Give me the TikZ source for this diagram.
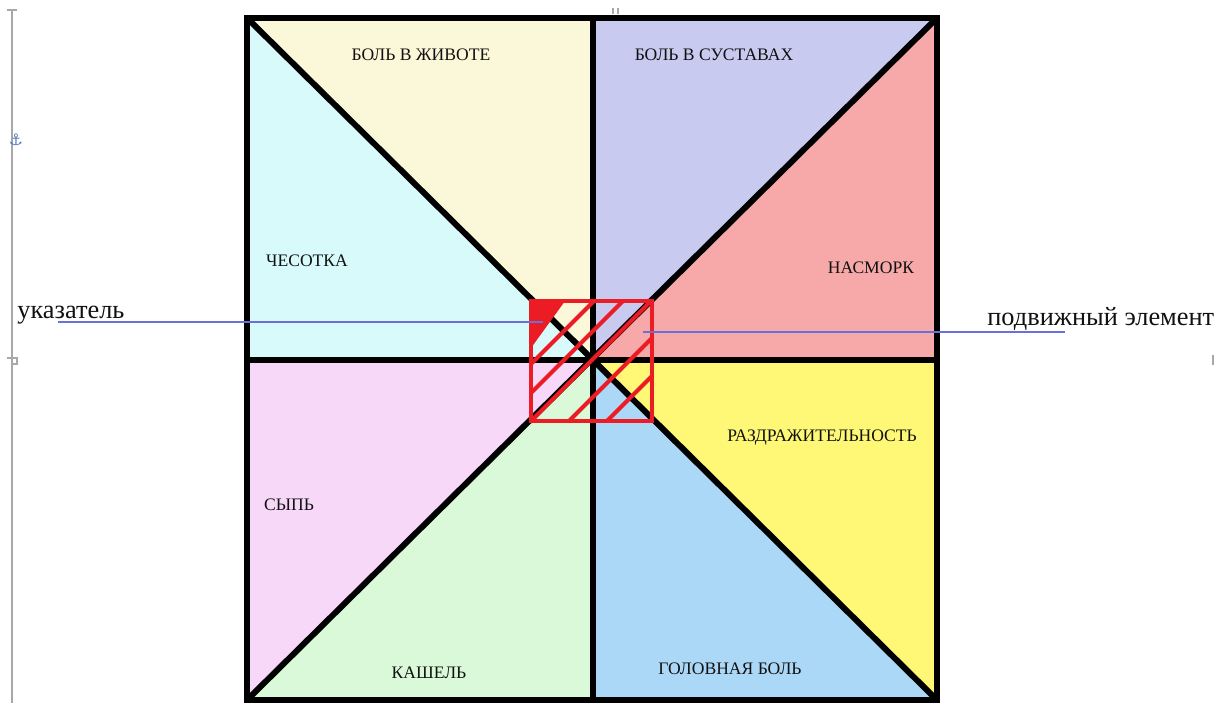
\documentclass[tikz,border=0pt]{standalone}
\usepackage{fontspec}
\setmainfont{Liberation Serif}
\newfontfamily\symfont{DejaVu Sans}
\usetikzlibrary{positioning}
\definecolor{bellyyellow}{HTML}{FBF7D9}
\definecolor{jointlilac}{HTML}{C8CAEF}
\definecolor{nosepink}{HTML}{F7A9A9}
\definecolor{nerveyellow}{HTML}{FEF876}
\definecolor{headblue}{HTML}{ACD8F7}
\definecolor{coughgreen}{HTML}{DAF9D8}
\definecolor{rashpink}{HTML}{F7D8F8}
\definecolor{itchcyan}{HTML}{D8FAFA}
\definecolor{sliderred}{HTML}{EC1C24}
\definecolor{leaderblue}{HTML}{6A70D8}
\definecolor{textgray}{HTML}{111111}
\definecolor{wordgray}{HTML}{A8A8A8}
\definecolor{anchorblue}{HTML}{4A7EBB}

\begin{document}
\begin{tikzpicture}[
    x=0.02cm, y=-0.02cm,
    sector/.style={
        fill=#1,
        draw=none
    },
    frame/.style={
        draw=black,
        line width=3.4pt,
        line join=miter
    },
    slider/.style={
        draw=sliderred,
        line width=2.3pt
    },
    sectorlabel/.style={
        font=\fontsize{10}{12}\selectfont,
        text=textgray,
        inner sep=0pt
    },
    callout/.style={
        font=\fontsize{15}{18}\selectfont,
        text=textgray,
        inner sep=0pt,
        anchor=base west
    },
    leader/.style={
        draw=leaderblue,
        line width=0.8pt
    },
    margin/.style={
        draw=wordgray,
        line width=0.6pt
    }
]

\useasboundingbox (0,0) rectangle (1218,703);

% corners and midpoints of the wheel
\coordinate (tl) at (247,18);
\coordinate (tm) at (593,18);
\coordinate (tr) at (937,18);
\coordinate (rm) at (937,360);
\coordinate (br) at (937,700);
\coordinate (bm) at (593,700);
\coordinate (bl) at (247,700);
\coordinate (lm) at (247,360);
\coordinate (c) at (593,360);

\fill[sector=bellyyellow] (tl) -- (tm) -- (c) -- cycle;
\fill[sector=jointlilac] (tm) -- (tr) -- (c) -- cycle;
\fill[sector=nosepink] (tr) -- (rm) -- (c) -- cycle;
\fill[sector=nerveyellow] (rm) -- (br) -- (c) -- cycle;
\fill[sector=headblue] (br) -- (bm) -- (c) -- cycle;
\fill[sector=coughgreen] (bm) -- (bl) -- (c) -- cycle;
\fill[sector=rashpink] (bl) -- (lm) -- (c) -- cycle;
\fill[sector=itchcyan] (lm) -- (tl) -- (c) -- cycle;

\draw[frame] (tl) rectangle (br);
\draw[frame] (tm) -- (bm);
\draw[frame] (lm) -- (rm);
\draw[frame] (tl) -- (br);
\draw[frame] (tr) -- (bl);

\node[sectorlabel] (belly) at (421,55) {БОЛЬ В ЖИВОТЕ};
\node[sectorlabel] (joints) at (714,55) {БОЛЬ В СУСТАВАХ};
\node[sectorlabel] (nose) at (871,268) {НАСМОРК};
\node[sectorlabel] (nerves) at (822,438) {РАЗДРАЖИТЕЛЬНОСТЬ};
\node[sectorlabel] (head) at (730,669) {ГОЛОВНАЯ БОЛЬ};
\node[sectorlabel] (cough) at (429,673) {КАШЕЛЬ};
\node[sectorlabel] (rash) at (289,505) {СЫПЬ};
\node[sectorlabel] (itch) at (307,261) {ЧЕСОТКА};

% moving element
\coordinate (s1) at (531,301);
\coordinate (s2) at (652,421);
\fill[sliderred] (s1) -- (565,301) -- (531,348) -- cycle;
\begin{scope}
    \clip (s1) rectangle (s2);
    \foreach \c in {895,924,952,990,1028}
        \draw[slider] ({\c-431},431) -- ({\c-291},291);
\end{scope}
\draw[slider] (s1) rectangle (s2);

\node[callout] (pointer) at (17,318) {указатель};
\coordinate (pointer tail) at (58,322);
\coordinate (pointer tip) at (543,322);
\draw[leader] (pointer tail) -- (pointer tip);

\node[callout] (mover) at (987,325) {подвижный элемент};
\coordinate (mover tip) at (643,332);
\coordinate (mover tail) at (1065,332);
\draw[leader] (mover tip) -- (mover tail);

% page margin marks
\draw[margin] (12,10) -- (12,703);
\draw[margin] (7,10) -- (17,10);
\draw[margin] (7,358) -- (17,358) -- (17,364) -- (12,364);
\draw[margin] (1213,355) -- (1213,365);
\draw[margin] (613,8) -- (613,14);
\draw[margin] (618,8) -- (618,14);
\node[text=anchorblue, font=\symfont\fontsize{9}{10}\selectfont, inner sep=0pt] (anchormark) at (16,140) {⚓};

\end{tikzpicture}
\end{document}
